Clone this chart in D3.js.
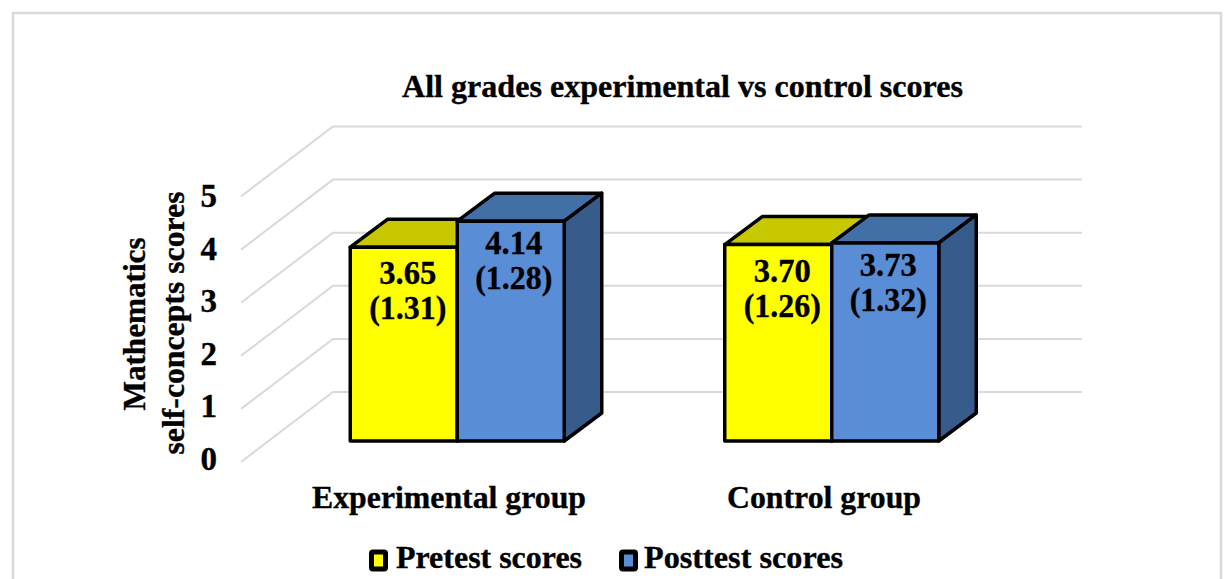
<!DOCTYPE html>
<html><head><meta charset="utf-8">
<script src="https://cdn.jsdelivr.net/npm/d3@7/dist/d3.min.js"></script>
<style>html,body{margin:0;padding:0;background:#fff}svg{display:block}text{font-family:"Liberation Serif",serif;font-weight:bold;fill:#000;stroke:#000;stroke-width:.35px}</style>
</head><body><svg id="c" width="1225" height="579"></svg>
<script>
const chartTitle = "All grades experimental vs control scores";
const groups = ["Experimental group", "Control group"];
const seriesNames = ["Pretest scores", "Posttest scores"];
const pretestMeans = [3.65, 3.70];
const posttestMeans = [4.14, 3.73];
const pretestSDs = ["(1.31)", "(1.26)"];
const posttestSDs = ["(1.28)", "(1.32)"];
const meanLabels = [["3.65", "3.70"], ["4.14", "3.73"]];
const tickValues = [0, 1, 2, 3, 4, 5];
const axisLines = ["Mathematics", "self-concepts scores"];

const W = 1225, H = 579;
const svg = d3.select("#c");
svg.append("path").attr("d", `M13,${H+5}V13H1221V${H+5}`).attr("fill", "none").attr("stroke", "#d9d9d9").attr("stroke-width", 2.5);

const unit = 53.1;
const yBack = d3.scaleLinear().domain([0, 5]).range([392, 392 - 5 * unit]);
const yFloor = d3.scaleLinear().domain([0, 5]).range([462, 462 - 5 * unit]);
const yBar = d3.scaleLinear().domain([0, 5]).range([441, 441 - 5 * unit]);
const yTick = d3.scaleLinear().domain([0, 5]).range([459, 196]);
const x0 = d3.scaleBand().domain(groups).range([270, 1019]);
const x1 = d3.scaleBand().domain(seriesNames).range([-107, 107]);

const grid = svg.append("g").attr("stroke", "#d9d9d9").attr("stroke-width", 2).attr("fill", "none");
grid.selectAll("path").data(tickValues).join("path")
  .attr("d", v => d3.line()([[241, yFloor(v)], [333, yBack(v)], [1082, yBack(v)]]));

const axisG = svg.append("g").attr("transform", "translate(217,0)")
  .call(d3.axisLeft(yTick).tickValues(tickValues).tickSize(0).tickPadding(0).tickFormat(d3.format("d")));
axisG.select(".domain").remove();
axisG.selectAll("text").style("font-family", '"Liberation Serif",serif').style("font-size", "33px").style("font-weight", "bold").attr("fill", "#000");

const at = [[145, 324, 173], [184, 323, 263]];
axisLines.forEach((t, i) => {
  svg.append("text").attr("transform", `translate(${at[i][0]},${at[i][1]}) rotate(-90)`)
    .attr("text-anchor", "middle").attr("font-size", 32)
    .attr("textLength", at[i][2]).attr("lengthAdjust", "spacingAndGlyphs").text(t);
});

svg.append("text").attr("x", 682.5).attr("y", 97).attr("text-anchor", "middle").attr("font-size", 32)
  .attr("textLength", 561).attr("lengthAdjust", "spacingAndGlyphs").text(chartTitle);

const colors = [
  {front: "#ffff00", top: "#c8c800", side: "#8f8f00"},
  {front: "#598dd6", top: "#426fa5", side: "#375c8c"}
];
const dx = 37.5, dy = -28;
const means = [pretestMeans, posttestMeans];
const sds = [pretestSDs, posttestSDs];
const poly = d3.line().curve(d3.curveLinearClosed);
const lineOffset = [37, 33], xOffset = [4, 3];
const barG = svg.append("g").attr("stroke", "#000").attr("stroke-width", 3.5).attr("stroke-linejoin", "round");
const labelG = svg.append("g");
groups.forEach((g, gi) => {
  seriesNames.forEach((s, si) => {
    const v = means[si][gi];
    const l = x0(g) + x0.bandwidth() / 2 + x1(s), r = l + x1.bandwidth();
    const t = yBar(v), b = yBar(0), c = colors[si];
    barG.append("path").attr("fill", c.top).attr("d", poly([[l, t], [l + dx, t + dy], [r + dx, t + dy], [r, t]]));
    barG.append("path").attr("fill", c.side).attr("d", poly([[r, t], [r + dx, t + dy], [r + dx, b + dy], [r, b]]));
    barG.append("path").attr("fill", c.front).attr("d", poly([[l, t], [r, t], [r, b], [l, b]]));
    const cx = (l + r) / 2 + xOffset[si];
    labelG.append("text").attr("x", cx).attr("y", t + lineOffset[si]).attr("text-anchor", "middle").attr("font-size", 33)
      .attr("textLength", 57).attr("lengthAdjust", "spacingAndGlyphs").text(meanLabels[si][gi]);
    labelG.append("text").attr("x", cx).attr("y", t + lineOffset[si] + 35).attr("text-anchor", "middle").attr("font-size", 33)
      .attr("textLength", 77).attr("lengthAdjust", "spacingAndGlyphs").text(sds[si][gi]);
  });
});

const catW = [274, 194], catC = [449, 824];
groups.forEach((g, i) => {
  svg.append("text").attr("x", catC[i]).attr("y", 508).attr("text-anchor", "middle").attr("font-size", 32)
    .attr("textLength", catW[i]).attr("lengthAdjust", "spacingAndGlyphs").text(g);
});

const legX = [371.5, 621.5], legTextX = [396, 644], legW = [186, 199];
seriesNames.forEach((s, i) => {
  svg.append("rect").attr("x", legX[i]).attr("y", 552).attr("width", 14).attr("height", 17)
    .attr("fill", colors[i].front).attr("stroke", "#000").attr("stroke-width", 5).attr("rx", 1.5);
  svg.append("text").attr("x", legTextX[i]).attr("y", 568).attr("font-size", 32)
    .attr("textLength", legW[i]).attr("lengthAdjust", "spacingAndGlyphs").text(s);
});
</script></body></html>
